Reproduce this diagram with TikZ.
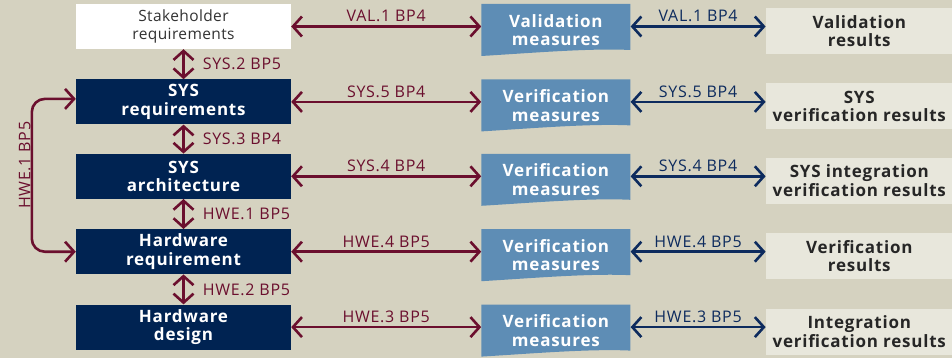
\documentclass[tikz,border=0pt]{standalone}
\usepackage{fontspec}
\setmainfont{Open Sans}[LetterSpace=4.5]
\usetikzlibrary{positioning,arrows.meta}

\definecolor{bgbeige}{HTML}{D5D2C0}
\definecolor{navybox}{HTML}{002352}
\definecolor{docblue}{HTML}{5E8DB5}
\definecolor{resultgray}{HTML}{E8E7DC}
\definecolor{wine}{HTML}{6B0F2E}
\definecolor{navyline}{HTML}{0D2B5E}

\begin{document}
\begin{tikzpicture}[x=1pt,y=-1pt]

% definitions
\tikzstyle{stake} = [rectangle, minimum width=215pt, minimum height=45pt, inner sep=0pt, align=center, fill=white, text=black!80, font=\fontsize{15.5}{18.5}\selectfont\addfontfeature{LetterSpace=2.5}]

\tikzstyle{sysbox} = [rectangle, minimum width=215pt, minimum height=45pt, inner sep=0pt, align=center, fill=navybox, text=white, font=\fontsize{17}{18.5}\selectfont\bfseries]

\tikzstyle{docbox} = [rectangle, minimum width=149pt, minimum height=52pt, inner sep=0pt, align=center, text=white, font=\fontsize{17}{18.5}\selectfont\bfseries,
  path picture={\fill[docblue] (path picture bounding box.north west) -- (path picture bounding box.north east) -- ([yshift=6pt]path picture bounding box.south east) .. controls ([xshift=-40pt,yshift=8pt]path picture bounding box.south east) and ([xshift=50pt,yshift=3pt]path picture bounding box.south west) .. (path picture bounding box.south west) -- cycle;}]

\tikzstyle{resultbox} = [rectangle, minimum width=187pt, minimum height=46pt, inner sep=0pt, align=center, fill=resultgray, text=black!85, font=\fontsize{17}{18.5}\selectfont\bfseries]

\tikzstyle{redarrow} = [wine, line width=2.6pt, {Straight Barb[length=9pt,width=20pt]}-{Straight Barb[length=9pt,width=20pt]}]
\tikzstyle{bluearrow} = [navyline, line width=2.6pt, {Straight Barb[length=9pt,width=20pt]}-{Straight Barb[length=9pt,width=20pt]}]

\tikzstyle{redlabel} = [above=3pt, inner sep=0pt, text=wine, font=\fontsize{16}{16}\selectfont]
\tikzstyle{bluelabel} = [above=3pt, inner sep=0pt, text=navyline, font=\fontsize{16}{16}\selectfont]
\tikzstyle{sidelabel} = [right=18pt, inner sep=0pt, text=wine, font=\fontsize{16}{16}\selectfont]

% background
\fill[bgbeige] (0,0) rectangle (952,358);
\useasboundingbox (0,0) rectangle (952,358);

% the graph
\node (l1) [stake] at (183.5,26.5) {Stakeholder\\requirements};
\node (l2) [sysbox, below=30pt of l1] {SYS\\requirements};
\node (l3) [sysbox, below=29pt of l2] {SYS\\architecture};
\node (l4) [sysbox, below=30pt of l3] {Hardware\\requirement};
\node (l5) [sysbox, below=30pt of l4] {Hardware\\design};

\node (m1) [docbox, right=190pt of l1, yshift=-3.5pt] {Validation\\measures};
\node (m2) [docbox, right=190pt of l2, yshift=-3.5pt] {Verification\\measures};
\node (m3) [docbox, right=190pt of l3, yshift=-3.5pt] {Verification\\measures};
\node (m4) [docbox, right=190pt of l4, yshift=-3.5pt] {Verification\\measures};
\node (m5) [docbox, right=190pt of l5, yshift=-3.5pt] {Verification\\measures};

\node (r1) [resultbox, right=135pt of m1, yshift=-1pt] {Validation\\results};
\node (r2) [resultbox, right=135pt of m2, yshift=-1pt] {SYS\\verification results};
\node (r3) [resultbox, right=135pt of m3, yshift=-1pt] {SYS integration\\verification results};
\node (r4) [resultbox, right=135pt of m4, yshift=-1pt] {Verification\\results};
\node (r5) [resultbox, right=135pt of m5, yshift=-1pt] {Integration\\verification results};

\draw [redarrow] (l1) -- node[sidelabel] {SYS.2 BP5} (l2);
\draw [redarrow] (l2) -- node[sidelabel] {SYS.3 BP4} (l3);
\draw [redarrow] (l3) -- node[sidelabel] {HWE.1 BP5} (l4);
\draw [redarrow] (l4) -- node[sidelabel] {HWE.2 BP5} (l5);

\draw [redarrow] (l1.east) -- node[redlabel] {VAL.1 BP4} (l1.east -| m1.west);
\draw [redarrow] (l2.east) -- node[redlabel] {SYS.5 BP4} (l2.east -| m2.west);
\draw [redarrow] (l3.east) -- node[redlabel] {SYS.4 BP4} (l3.east -| m3.west);
\draw [redarrow] (l4.east) -- node[redlabel] {HWE.4 BP5} (l4.east -| m4.west);
\draw [redarrow] (l5.east) -- node[redlabel] {HWE.3 BP5} (l5.east -| m5.west);

\draw [bluearrow] (l1.east -| m1.east) -- node[bluelabel] {VAL.1 BP4} (l1.east -| r1.west);
\draw [bluearrow] (l2.east -| m2.east) -- node[bluelabel] {SYS.5 BP4} (l2.east -| r2.west);
\draw [bluearrow] (l3.east -| m3.east) -- node[bluelabel] {SYS.4 BP4} (l3.east -| r3.west);
\draw [bluearrow] (l4.east -| m4.east) -- node[bluelabel] {HWE.4 BP5} (l4.east -| r4.west);
\draw [bluearrow] (l5.east -| m5.east) -- node[bluelabel] {HWE.3 BP5} (l5.east -| r5.west);

\draw [redarrow, rounded corners=13pt] ([yshift=3pt]l2.west) -- ++(-44,0) |- node[pos=0.25, rotate=90, above=10pt, inner sep=0pt, text=wine, font=\fontsize{16}{16}\selectfont] {HWE.1 BP5} (l4.west);

\end{tikzpicture}
\end{document}
